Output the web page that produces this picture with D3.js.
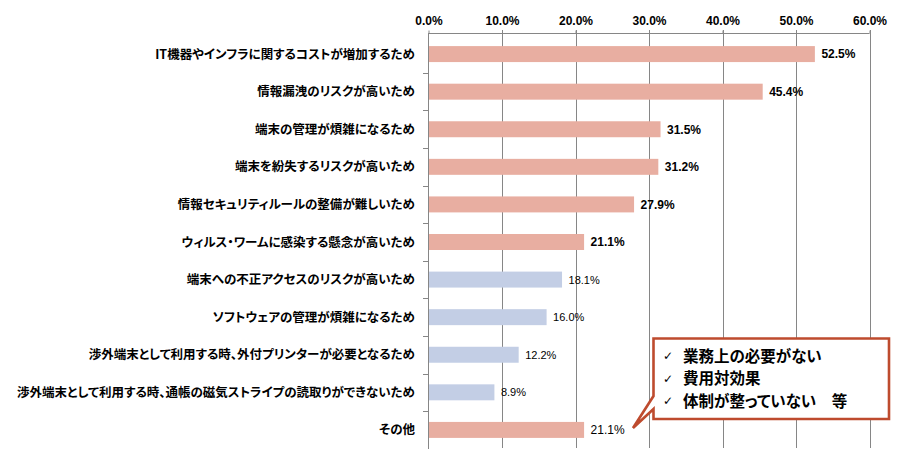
<!DOCTYPE html>
<html><head><meta charset="utf-8">
<script src="https://cdn.jsdelivr.net/npm/d3@7"></script>
<style>
html,body{margin:0;padding:0;background:#fff;}
svg{display:block;}
.palt{font-feature-settings:"palt" 1;}
</style>
</head><body>
<script>
const categories = [
  "IT機器やインフラに関するコストが増加するため",
  "情報漏洩のリスクが高いため",
  "端末の管理が煩雑になるため",
  "端末を紛失するリスクが高いため",
  "情報セキュリティルールの整備が難しいため",
  "ウィルス・ワームに感染する懸念が高いため",
  "端末への不正アクセスのリスクが高いため",
  "ソフトウェアの管理が煩雑になるため",
  "渉外端末として利用する時、外付プリンターが必要となるため",
  "渉外端末として利用する時、通帳の磁気ストライプの読取りができないため",
  "その他"
];
const values = [52.5, 45.4, 31.5, 31.2, 27.9, 21.1, 18.1, 16.0, 12.2, 8.9, 21.1];
const highlight = [true, true, true, true, true, true, false, false, false, false, true];
const tickValues = [0, 10, 20, 30, 40, 50, 60];
const calloutLines = ["業務上の必要がない", "費用対効果", "体制が整っていない　等"];

const W = 903, H = 464;
const svg = d3.select("body").append("svg").attr("width", W).attr("height", H);

const x = d3.scaleLinear().domain([0, 60]).range([428.5, 869.5]);
const y = d3.scaleBand().domain(categories).range([35.2, 448.8]).paddingInner(0.575).paddingOuter(0.29);

const jp = "'Noto Sans CJK JP', 'Noto Sans', sans-serif";
const lat = "'Liberation Sans', Arial, sans-serif";

// gridlines
svg.append("g").selectAll("line").data(tickValues.slice(1)).join("line")
  .attr("x1", d => Math.round(x(d)) + 0.5).attr("x2", d => Math.round(x(d)) + 0.5)
  .attr("y1", 30).attr("y2", 448)
  .attr("stroke", "#868686").attr("stroke-width", 1);

// top axis
const xAxis = d3.axisTop(x).tickValues(tickValues).tickSize(3).tickFormat(d => d.toFixed(1) + "%");
const gx = svg.append("g").attr("transform", "translate(0,33.5)").call(xAxis);
gx.select(".domain").attr("stroke", "#868686").attr("d", `M${x(0)},0H${x(60)}`);
gx.selectAll(".tick line").attr("stroke", "#868686");
gx.selectAll(".tick text").attr("font-family", lat).attr("font-size", 12).attr("font-weight", "bold")
  .attr("fill", "#000").attr("dy", "-3px");

// left axis
const boundaries = d3.range(categories.length + 1).map(i => 35.2 + i * (448.8 - 35.2) / categories.length);
svg.append("line").attr("x1", 428.5).attr("x2", 428.5).attr("y1", 33).attr("y2", 449)
  .attr("stroke", "#868686");
svg.append("g").selectAll("line").data(boundaries.slice(1, -1)).join("line")
  .attr("x1", 423).attr("x2", 428.5).attr("y1", d => Math.round(d) + 0.5).attr("y2", d => Math.round(d) + 0.5)
  .attr("stroke", "#868686");

// bars
svg.append("g").selectAll("rect").data(categories).join("rect")
  .attr("x", x(0) + 0.5)
  .attr("y", d => y(d))
  .attr("width", (d, i) => x(values[i]) - x(0))
  .attr("height", y.bandwidth())
  .attr("fill", (d, i) => highlight[i] ? "#E8AEA1" : "#C3CEE5");

// category labels
svg.append("g").selectAll("text").data(categories).join("text")
  .attr("class", "palt")
  .attr("x", 415)
  .attr("y", d => y(d) + y.bandwidth() / 2)
  .attr("dy", "0.36em")
  .attr("text-anchor", "end")
  .attr("font-family", jp).attr("font-size", 12.5).attr("font-weight", "bold")
  .attr("fill", "#000")
  .text(d => d);

// value labels
svg.append("g").selectAll("text").data(categories).join("text")
  .attr("x", (d, i) => x(values[i]) + 7)
  .attr("y", d => y(d) + y.bandwidth() / 2)
  .attr("dy", "0.36em")
  .attr("font-family", lat)
  .attr("font-size", (d, i) => highlight[i] ? 12 : 11)
  .attr("font-weight", (d, i) => (highlight[i] && i < categories.length - 1) ? "bold" : "normal")
  .attr("fill", "#000")
  .text((d, i) => values[i].toFixed(1) + "%");

// callout
const bx0 = 653.5, bx1 = 889, by0 = 338.5, by1 = 419;
svg.append("path")
  .attr("d", `M${bx0},${by0}H${bx1}V${by1}H${bx0}V409L633,428L${bx0},396Z`)
  .attr("fill", "#fff").attr("stroke", "#BE4B2E").attr("stroke-width", 2.6)
  .attr("stroke-linejoin", "miter");
const cg = svg.append("g");
calloutLines.forEach((t, i) => {
  const cy = 356 + i * 22.5;
  cg.append("text").attr("x", 663).attr("y", cy).attr("dy", "0.36em")
    .attr("font-family", "'DejaVu Sans', sans-serif").attr("font-size", 12).attr("fill", "#000").text("✓");
  cg.append("text").attr("class", "palt").attr("x", 683).attr("y", cy).attr("dy", "0.36em")
    .attr("font-family", jp).attr("font-size", 15.5).attr("font-weight", "bold").attr("fill", "#000").text(t);
});
</script>
</body></html>
